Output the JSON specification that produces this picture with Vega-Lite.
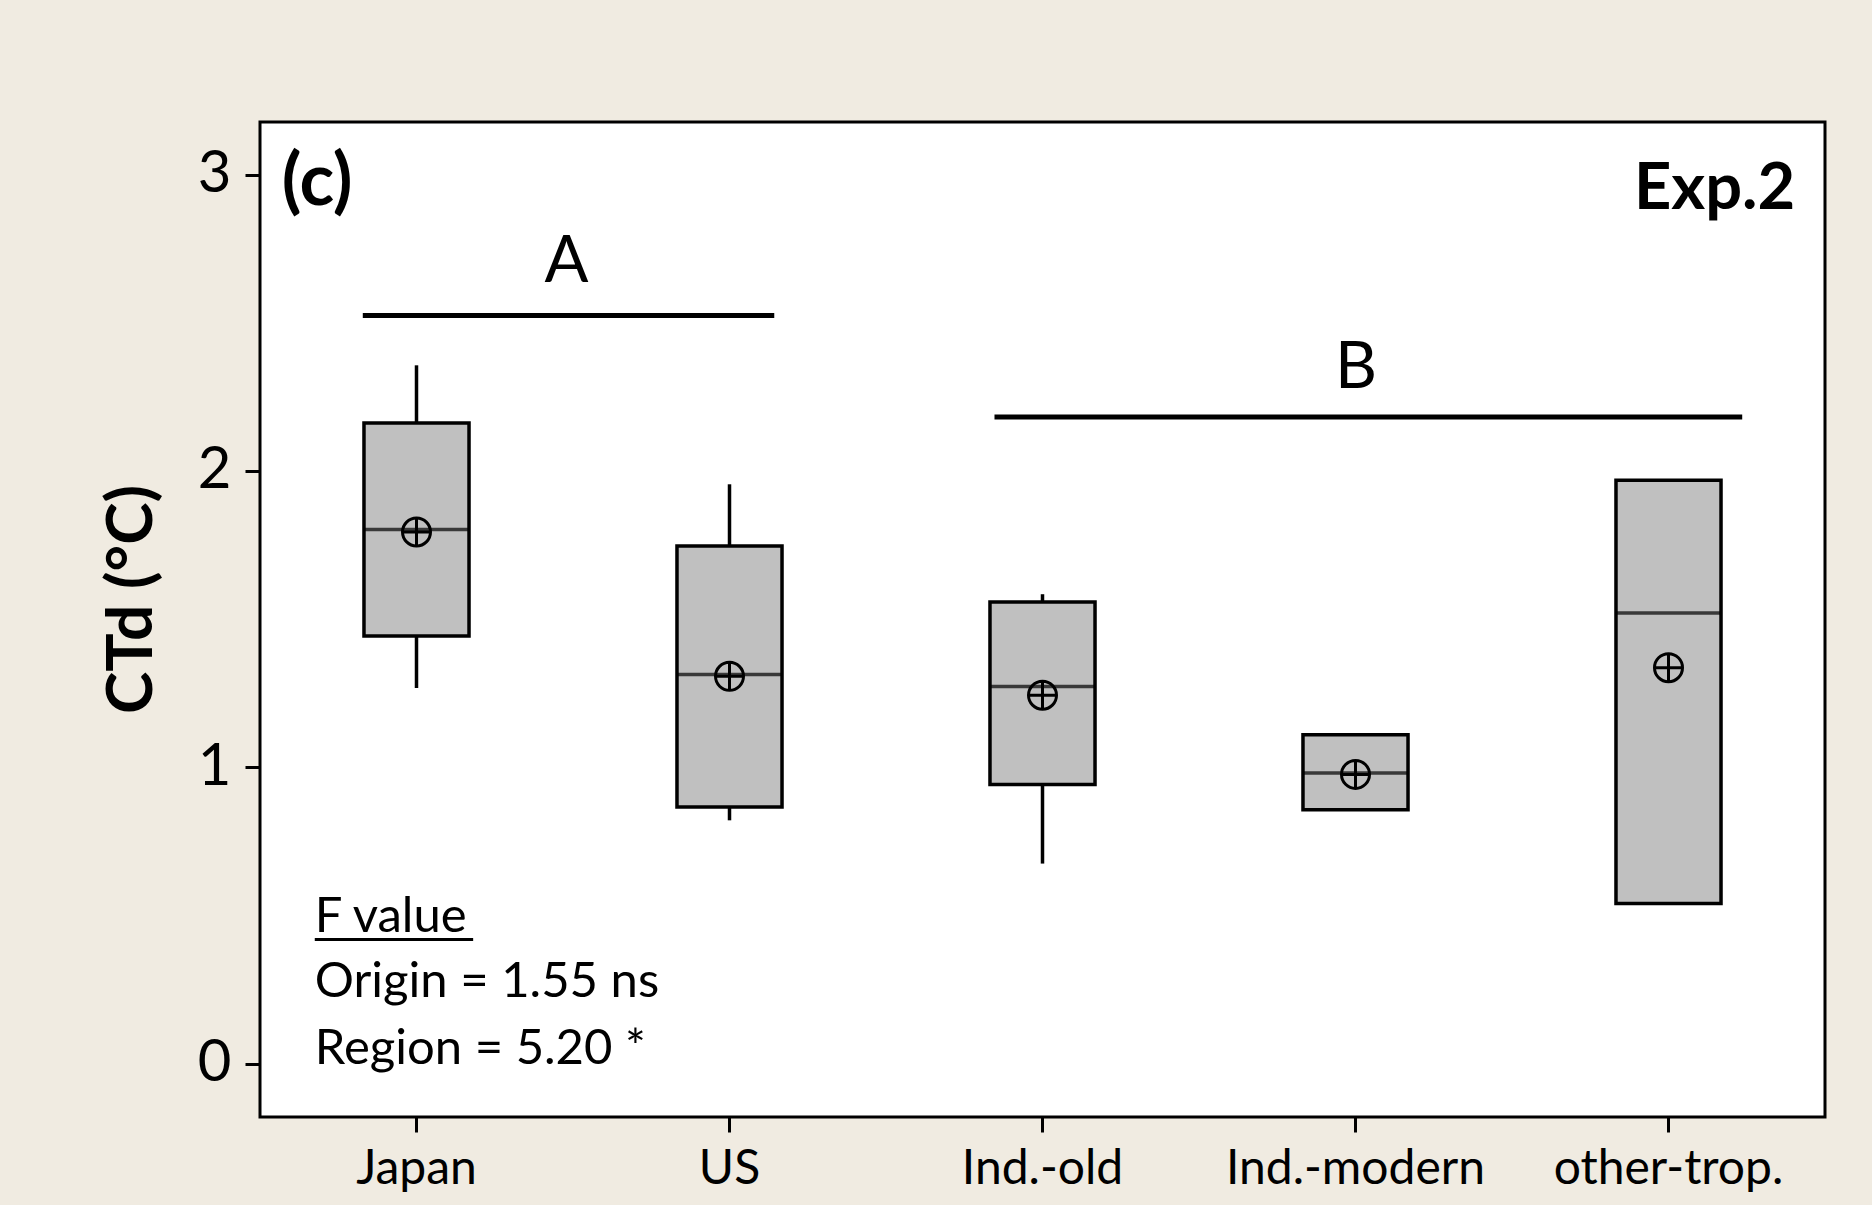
{
  "$schema": "https://vega.github.io/schema/vega-lite/v6.json",
  "width": 1565,
  "height": 995,
  "autosize": {"type": "none"},
  "padding": {"left": 260, "top": 122, "right": 47, "bottom": 88},
  "background": "#f0ebe1",
  "config": {
    "view": {"fill": "white", "stroke": "black", "strokeWidth": 3},
    "font": "Lato",
    "axisY": {"grid": false, "domain": false, "tickSize": 15, "tickWidth": 3, "tickColor": "black",
              "labelFont": "Lato", "labelFontSize": 58, "labelColor": "black", "labelPadding": 14,
              "titleFont": "Lato", "titleFontSize": 64, "titleFontWeight": "bold", "titleColor": "black",
              "titleAngle": 270, "titleX": -109, "titleY": 477, "titleBaseline": "alphabetic", "titleAlign": "center"}
  },
  "resolve": {"scale": {"x": "independent"}, "axis": {"x": "independent"}},
  "layer": [
    {
      "data": {"values": [
        {"region": "Japan", "lo": 1.2675, "q1": 1.443, "median": 1.802, "q3": 2.1618, "hi": 2.3565, "mean": 1.794},
        {"region": "US", "lo": 0.821, "q1": 0.866, "median": 1.3127, "q3": 1.747, "hi": 1.955, "mean": 1.307},
        {"region": "Ind.-old", "lo": 0.675, "q1": 0.9415, "median": 1.273, "q3": 1.558, "hi": 1.584, "mean": 1.243},
        {"region": "Ind.-modern", "lo": 0.857, "q1": 0.857, "median": 0.981, "q3": 1.11, "hi": 1.11, "mean": 0.976},
        {"region": "other-trop.", "lo": 0.54, "q1": 0.54, "median": 1.5206, "q3": 1.969, "hi": 1.969, "mean": 1.336}
      ]},
      "encoding": {
        "x": {
          "field": "region", "type": "nominal", "sort": null,
          "scale": {"domain": ["Japan", "US", "Ind.-old", "Ind.-modern", "other-trop."], "paddingInner": 0, "paddingOuter": 0},
          "axis": {"title": null, "labelAngle": 0, "domain": false, "tickSize": 15, "tickWidth": 3, "tickColor": "black",
                   "labelFont": "Lato", "labelFontSize": 48, "labelColor": "black", "labelPadding": 51,
                   "labelBaseline": "alphabetic", "labelLimit": 400}
        }
      },
      "layer": [
        {
          "mark": {"type": "rule", "color": "black", "strokeWidth": 3.5},
          "encoding": {
            "y": {"field": "q3", "type": "quantitative",
                  "scale": {"domain": [-0.1802, 3.1776], "nice": false, "zero": false},
                  "axis": {"values": [0, 1, 2, 3], "title": "CTd (°C)"}},
            "y2": {"field": "hi"}
          }
        },
        {
          "mark": {"type": "rule", "color": "black", "strokeWidth": 3.5},
          "encoding": {
            "y": {"field": "q1", "type": "quantitative", "scale": {"domain": [-0.1802, 3.1776], "nice": false, "zero": false},
                  "axis": {"values": [0, 1, 2, 3], "title": "CTd (°C)"}},
            "y2": {"field": "lo"}
          }
        },
        {
          "mark": {"type": "bar", "width": {"band": 0.3356}, "fill": "#c0c0c0", "stroke": "black", "strokeWidth": 3.5},
          "encoding": {
            "y": {"field": "q1", "type": "quantitative", "scale": {"domain": [-0.1802, 3.1776], "nice": false, "zero": false},
                  "axis": {"values": [0, 1, 2, 3], "title": "CTd (°C)"}},
            "y2": {"field": "q3"}
          }
        },
        {
          "mark": {"type": "tick", "size": 105, "thickness": 3.5, "color": "black"},
          "encoding": {
            "y": {"field": "median", "type": "quantitative", "scale": {"domain": [-0.1802, 3.1776], "nice": false, "zero": false},
                  "axis": {"values": [0, 1, 2, 3], "title": "CTd (°C)"}}
          }
        },
        {
          "mark": {"type": "point", "shape": "M-1,0A1,1,0,1,1,1,0A1,1,0,1,1,-1,0ZM-1,0L1,0M0,-1L0,1", "size": 784,
                   "filled": false, "color": "black", "strokeWidth": 3, "opacity": 1},
          "encoding": {
            "y": {"field": "mean", "type": "quantitative", "scale": {"domain": [-0.1802, 3.1776], "nice": false, "zero": false},
                  "axis": {"values": [0, 1, 2, 3], "title": "CTd (°C)"}}
          }
        }
      ]
    },
    {
      "layer": [
        {
          "data": {"values": [
            {"x": 0.8284, "x2": 2.143, "y": 2.525},
            {"x": 2.8466, "x2": 5.2355, "y": 2.182}
          ]},
          "mark": {"type": "rule", "color": "black", "strokeWidth": 5},
          "encoding": {
            "x": {"field": "x", "type": "quantitative", "scale": {"domain": [0.5, 5.5], "nice": false, "zero": false}, "axis": null},
            "x2": {"field": "x2"},
            "y": {"field": "y", "type": "quantitative", "scale": {"domain": [-0.1802, 3.1776], "nice": false, "zero": false},
                  "axis": {"values": [0, 1, 2, 3], "title": "CTd (°C)"}}
          }
        },
        {
          "data": {"values": [{"x": 0.675, "x2": 1.181, "y": 0.4184}]},
          "mark": {"type": "rule", "color": "black", "strokeWidth": 3},
          "encoding": {
            "x": {"field": "x", "type": "quantitative", "scale": {"domain": [0.5, 5.5], "nice": false, "zero": false}, "axis": null},
            "x2": {"field": "x2"},
            "y": {"field": "y", "type": "quantitative", "scale": {"domain": [-0.1802, 3.1776], "nice": false, "zero": false},
                  "axis": {"values": [0, 1, 2, 3], "title": "CTd (°C)"}}
          }
        },
        {
          "data": {"values": [{"label": "(c)", "x": 0.5695, "y": 2.896}]},
          "mark": {"type": "text", "font": "Lato", "fontSize": 72, "fontWeight": "bold", "align": "left", "baseline": "alphabetic", "color": "black"},
          "encoding": {
            "x": {"field": "x", "type": "quantitative", "scale": {"domain": [0.5, 5.5], "nice": false, "zero": false}, "axis": null},
            "y": {"field": "y", "type": "quantitative", "scale": {"domain": [-0.1802, 3.1776], "nice": false, "zero": false},
                  "axis": {"values": [0, 1, 2, 3], "title": "CTd (°C)"}},
            "text": {"field": "label"}
          }
        },
        {
          "data": {"values": [{"label": "Exp.2", "x": 5.405, "y": 2.885}]},
          "mark": {"type": "text", "font": "Lato", "fontSize": 65, "fontWeight": "bold", "align": "right", "baseline": "alphabetic", "color": "black"},
          "encoding": {
            "x": {"field": "x", "type": "quantitative", "scale": {"domain": [0.5, 5.5], "nice": false, "zero": false}, "axis": null},
            "y": {"field": "y", "type": "quantitative", "scale": {"domain": [-0.1802, 3.1776], "nice": false, "zero": false},
                  "axis": {"values": [0, 1, 2, 3], "title": "CTd (°C)"}},
            "text": {"field": "label"}
          }
        },
        {
          "data": {"values": [{"label": "A", "x": 1.479, "y": 2.6376}, {"label": "B", "x": 4.002, "y": 2.2789}]},
          "mark": {"type": "text", "font": "Lato", "fontSize": 65, "align": "center", "baseline": "alphabetic", "color": "black"},
          "encoding": {
            "x": {"field": "x", "type": "quantitative", "scale": {"domain": [0.5, 5.5], "nice": false, "zero": false}, "axis": null},
            "y": {"field": "y", "type": "quantitative", "scale": {"domain": [-0.1802, 3.1776], "nice": false, "zero": false},
                  "axis": {"values": [0, 1, 2, 3], "title": "CTd (°C)"}},
            "text": {"field": "label"}
          }
        },
        {
          "data": {"values": [
            {"label": "F value", "x": 0.675, "y": 0.4441},
            {"label": "Origin = 1.55 ns", "x": 0.675, "y": 0.2248},
            {"label": "Region = 5.20 *", "x": 0.675, "y": 0.0}
          ]},
          "mark": {"type": "text", "font": "Lato", "fontSize": 49, "align": "left", "baseline": "alphabetic", "color": "black"},
          "encoding": {
            "x": {"field": "x", "type": "quantitative", "scale": {"domain": [0.5, 5.5], "nice": false, "zero": false}, "axis": null},
            "y": {"field": "y", "type": "quantitative", "scale": {"domain": [-0.1802, 3.1776], "nice": false, "zero": false},
                  "axis": {"values": [0, 1, 2, 3], "title": "CTd (°C)"}},
            "text": {"field": "label"}
          }
        }
      ]
    }
  ]
}
